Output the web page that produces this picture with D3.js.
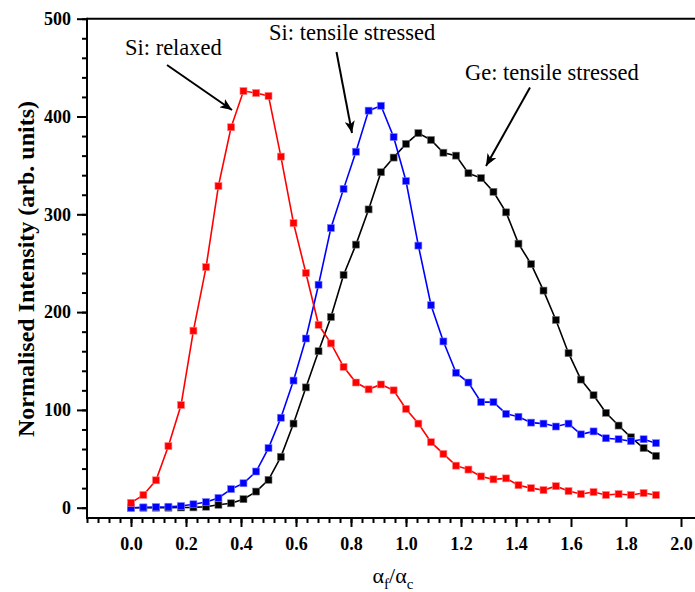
<!DOCTYPE html>
<html>
<head>
<meta charset="utf-8">
<script src="https://cdn.jsdelivr.net/npm/d3@7"></script>
<style>
  body { margin: 0; background: #fff; }
  svg { display: block; }
</style>
</head>
<body>
<div id="chart"></div>
<script>
// x positions (alpha_f / alpha_c)
var alphaRatio = [0, 0.045, 0.091, 0.136, 0.182, 0.227, 0.273, 0.318, 0.364, 0.409, 0.455,
    0.5, 0.545, 0.591, 0.636, 0.682, 0.727, 0.773, 0.818, 0.864, 0.909, 0.955,
    1.0, 1.045, 1.091, 1.136, 1.182, 1.227, 1.273, 1.318, 1.364, 1.409, 1.455,
    1.5, 1.545, 1.591, 1.636, 1.682, 1.727, 1.773, 1.818, 1.864, 1.909];

// Si relaxed (red)
var siRelaxed = [5, 13, 28, 63, 105, 181, 246, 329, 389, 426, 424, 421, 359, 291, 240,
    187, 168, 144, 128, 121, 126, 120, 101, 86, 67, 55, 43, 39, 32, 29, 30,
    23, 20, 18, 22, 17, 14, 16, 13, 14, 13, 15, 13];

// Si tensile stressed (blue)
var siTensile = [0, 0.3, 0.6, 1, 1.7, 3.5, 5.8, 10, 19, 25, 37, 61, 92, 130, 173,
    228, 286, 326, 364, 406, 411, 379, 334, 268, 207, 170, 138, 128, 108, 108,
    96, 93, 87, 86, 83, 86, 75, 78, 71, 70, 68, 70, 66];

// Ge tensile stressed (black)
var geTensile = [0, 0, 0, 0, 0.2, 0.3, 1, 3, 4.5, 8.7, 16.5, 28.5, 52, 86, 123,
    160, 195, 238, 269, 305, 343, 358, 372, 383, 376, 363, 360, 342, 337, 323,
    302, 270, 249, 222, 192, 158, 131, 115, 97, 84, 72, 61, 53];

var xTickLabels = [0.0, 0.2, 0.4, 0.6, 0.8, 1.0, 1.2, 1.4, 1.6, 1.8, 2.0];
var yTickLabels = [0, 100, 200, 300, 400, 500];

var notes = [
    { text: "Si: relaxed", tx: 125, ty: 54.5, from: [167, 65], to: [232, 110] },
    { text: "Si: tensile stressed", tx: 269, ty: 40, from: [336.5, 52], to: [352, 133] },
    { text: "Ge: tensile stressed", tx: 465, ty: 79.5, from: [530, 87.5], to: [486, 166] }
];

function init() {
    var w = 695;
    var h = 592;

    var x = d3.scaleLinear().domain([-0.16, 2.2]).range([87, 87 + 2.36 * 275]);
    var y = d3.scaleLinear().domain([0, 500]).range([507.7, 18.7]);
    var yBottom = y(-10.5);

    var svg = d3.select("#chart")
                .append("svg")
                .attr("width", w)
                .attr("height", h);

    svg.append("defs").append("marker")
        .attr("id", "head")
        .attr("viewBox", "0 0 12 10")
        .attr("refX", 12)
        .attr("refY", 5)
        .attr("markerWidth", 12)
        .attr("markerHeight", 10)
        .attr("markerUnits", "userSpaceOnUse")
        .attr("orient", "auto")
        .append("path")
        .attr("d", "M0,0 L12,5 L0,10 L3,5 Z")
        .attr("fill", "#000");

    // x axis (bottom) with minor ticks every 0.04
    var xAxis = d3.axisBottom(x)
        .tickValues(d3.range(0, 43).map(function(i) { return -0.16 + i * 0.04; }))
        .tickSize(5)
        .tickFormat("");
    svg.append("g")
        .attr("transform", "translate(0," + yBottom + ")")
        .call(xAxis)
        .call(function(g) { g.select(".domain").remove(); })
        .selectAll("line").attr("stroke-width", 2);

    var xMajor = d3.axisBottom(x)
        .tickValues(xTickLabels)
        .tickSize(9)
        .tickPadding(10)
        .tickFormat(d3.format(".1f"));
    var gx = svg.append("g")
        .attr("transform", "translate(0," + yBottom + ")")
        .call(xMajor);
    gx.select(".domain").remove();
    gx.selectAll("line").attr("stroke-width", 2);
    gx.selectAll("text")
        .attr("font-family", "Liberation Serif")
        .attr("font-weight", "bold")
        .attr("font-size", "18px")
        .attr("fill", "#000");

    // y axis with minor ticks every 20
    var yMinor = d3.axisLeft(y)
        .tickValues(d3.range(0, 26).map(function(i) { return i * 20; }))
        .tickSize(5)
        .tickFormat("");
    svg.append("g")
        .attr("transform", "translate(87,0)")
        .call(yMinor)
        .call(function(g) { g.select(".domain").remove(); })
        .selectAll("line").attr("stroke-width", 2);

    var yMajor = d3.axisLeft(y)
        .tickValues(yTickLabels)
        .tickSize(10)
        .tickPadding(6);
    var gy = svg.append("g")
        .attr("transform", "translate(87,0)")
        .call(yMajor);
    gy.select(".domain").remove();
    gy.selectAll("line").attr("stroke-width", 2);
    gy.selectAll("text")
        .attr("font-family", "Liberation Serif")
        .attr("font-weight", "bold")
        .attr("font-size", "18px")
        .attr("fill", "#000");

    // frame lines
    svg.append("line")
        .attr("x1", 87).attr("x2", w)
        .attr("y1", yBottom).attr("y2", yBottom)
        .attr("stroke", "#000").attr("stroke-width", 2);
    svg.append("line")
        .attr("x1", 87).attr("x2", w)
        .attr("y1", y(500)).attr("y2", y(500))
        .attr("stroke", "#000").attr("stroke-width", 2);
    svg.append("line")
        .attr("x1", 87).attr("x2", 87)
        .attr("y1", y(500) - 1).attr("y2", yBottom + 1)
        .attr("stroke", "#000").attr("stroke-width", 2);

    var series = [
        { values: geTensile, color: "#000000", edge: "#777777" },
        { values: siTensile, color: "#0000ff", edge: "#8080ff" },
        { values: siRelaxed, color: "#ff0000", edge: "#ff8080" }
    ];

    var line = d3.line()
        .x(function(d) { return x(d[0]); })
        .y(function(d) { return y(d[1]); });

    series.forEach(function(s) {
        var pts = alphaRatio.map(function(a, i) { return [a, s.values[i]]; });
        svg.append("path")
            .datum(pts)
            .attr("d", line)
            .attr("fill", "none")
            .attr("stroke", s.color)
            .attr("stroke-width", 1.6);
        svg.append("g").selectAll("rect")
            .data(pts)
            .enter()
            .append("rect")
            .attr("x", function(d) { return x(d[0]) - 3.5; })
            .attr("y", function(d) { return y(d[1]) - 3.5; })
            .attr("width", 7)
            .attr("height", 7)
            .attr("fill", s.color)
            .attr("stroke", s.edge)
            .attr("stroke-width", 0.6);
    });

    // annotations
    notes.forEach(function(n) {
        svg.append("text")
            .attr("x", n.tx)
            .attr("y", n.ty)
            .attr("font-family", "Liberation Serif")
            .attr("font-size", "22.5px")
            .attr("fill", "#000")
            .text(n.text);
        svg.append("line")
            .attr("x1", n.from[0]).attr("y1", n.from[1])
            .attr("x2", n.to[0]).attr("y2", n.to[1])
            .attr("stroke", "#000")
            .attr("stroke-width", 2)
            .attr("marker-end", "url(#head)");
    });

    // y axis title
    svg.append("text")
        .attr("transform", "translate(34,269) rotate(-90)")
        .attr("text-anchor", "middle")
        .attr("font-family", "Liberation Serif")
        .attr("font-weight", "bold")
        .attr("font-size", "24px")
        .attr("fill", "#000")
        .text("Normalised Intensity (arb. units)");

    // x axis title: alpha_f / alpha_c
    var xt = svg.append("text")
        .attr("x", 393)
        .attr("y", 583)
        .attr("text-anchor", "middle")
        .attr("font-family", "Liberation Serif")
        .attr("font-size", "22px")
        .attr("fill", "#000");
    xt.append("tspan").text("\u03b1");
    xt.append("tspan").attr("dy", 6).attr("font-size", "15px").text("f");
    xt.append("tspan").attr("dy", -6).text("/\u03b1");
    xt.append("tspan").attr("dy", 6).attr("font-size", "15px").text("c");
}

window.onload = init;
</script>
</body>
</html>
